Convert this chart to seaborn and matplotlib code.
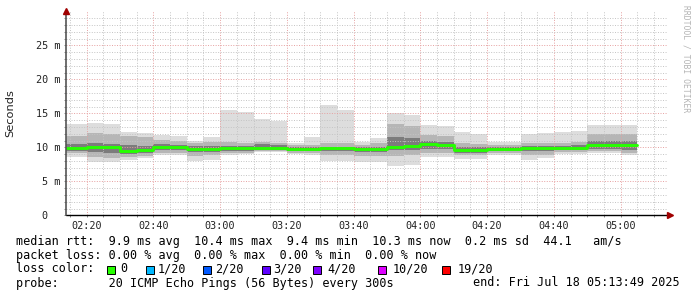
import numpy as np
import pandas as pd
import matplotlib
matplotlib.use("Agg")
import matplotlib.pyplot as plt
import matplotlib.dates as mdates
import matplotlib.ticker as mticker
from matplotlib.patches import Rectangle
import seaborn as sns

# ---------------- data (milliseconds) ----------------
bin_start = pd.date_range("2025-07-18 02:10", periods=35, freq="5min")
rtt_max = [13.4, 13.4, 13.6, 13.4, 12.25, 12.15, 11.85, 11.65, 10.97, 11.47,
           15.5, 15.2, 14.1, 13.8, 10.7, 11.55, 16.2, 15.5, 10.8, 11.4,
           15.1, 14.75, 13.3, 13.15, 12.25, 11.9, 10.8, 10.8, 11.95, 12.1,
           12.25, 12.4, 13.3, 13.3, 13.3]
rtt_hi2 = [11.7, 11.7, 12.1, 12.0, 11.6, 11.5, 11.1, 11.0, 10.6, 10.8,
           10.8, 10.7, 10.8, 10.7, 10.3, 10.4, 10.6, 10.6, 10.4, 10.6,
           13.5, 13.2, 11.8, 11.6, 10.6, 10.5, 10.4, 10.4, 10.6, 10.6,
           10.6, 10.8, 12.0, 12.0, 11.9]
rtt_hi3 = [10.5, 10.5, 10.6, 10.5, 10.3, 10.2, 10.5, 10.4, 10.2, 10.2,
           10.2, 10.2, 10.5, 10.4, 10.0, 10.1, 10.1, 10.1, 10.0, 10.1,
           11.5, 11.3, 10.9, 10.8, 10.0, 10.0, 10.1, 10.1, 10.2, 10.2,
           10.2, 10.3, 11.0, 11.0, 10.9]
rtt_median = [9.95, 9.95, 10.1, 10.0, 9.5, 9.6, 10.1, 10.0, 9.7, 9.7,
              9.9, 9.85, 9.85, 9.85, 9.7, 9.75, 9.85, 9.85, 9.75, 9.8,
              10.1, 10.25, 10.5, 10.35, 9.6, 9.6, 9.7, 9.75, 9.9, 9.9,
              9.95, 9.95, 10.3, 10.3, 10.3]
rtt_lo3 = [9.5, 9.5, 9.3, 9.2, 9.0, 9.1, 9.6, 9.6, 9.3, 9.3,
           9.5, 9.5, 9.6, 9.6, 9.4, 9.4, 9.4, 9.4, 9.3, 9.3,
           9.6, 9.6, 9.8, 9.8, 9.2, 9.2, 9.4, 9.4, 9.4, 9.4,
           9.6, 9.6, 9.7, 9.7, 9.6]
rtt_lo2 = [9.1, 9.1, 8.6, 8.5, 8.6, 8.7, 9.2, 9.2, 8.7, 8.8,
           9.1, 9.2, 9.45, 9.45, 9.2, 9.1, 8.9, 8.9, 8.7, 8.7,
           8.7, 8.8, 9.2, 9.2, 8.8, 8.8, 9.1, 9.1, 8.8, 8.9,
           9.3, 9.3, 9.4, 9.4, 9.2]
rtt_min = [8.6, 8.6, 7.8, 7.8, 8.1, 8.4, 8.85, 8.85, 7.98, 8.1,
           8.8, 8.95, 9.35, 9.35, 9.0, 8.8, 7.98, 7.98, 7.8, 7.8,
           7.3, 7.45, 8.6, 8.6, 8.25, 8.35, 8.9, 8.9, 8.1, 8.5,
           8.95, 8.95, 9.1, 9.1, 8.85]

y_ticks = [0, 5, 10, 15, 20, 25]
y_tick_labels = ["0  ", "5 m", "10 m", "15 m", "20 m", "25 m"]

legend_lines = [
    "median rtt:  9.9 ms avg  10.4 ms max  9.4 ms min  10.3 ms now  0.2 ms sd  44.1   am/s",
    "packet loss: 0.00 % avg  0.00 % max  0.00 % min  0.00 % now",
    "loss color:",
    "probe:       20 ICMP Echo Pings (56 Bytes) every 300s",
]
loss_labels = ["0", "1/20", "2/20", "3/20", "4/20", "10/20", "19/20"]
loss_colors = ["#26ff00", "#00b8ff", "#0059ff", "#5e00ff", "#7e00ff", "#dd00ff", "#ff0000"]
end_text = "end: Fri Jul 18 05:13:49 2025"

# ---------------- figure ----------------
sns.set_theme(style="white")
plt.rcParams["font.family"] = ["DejaVu Sans Mono", "DejaVu Sans"]

W, H = 697, 297
fig = plt.figure(figsize=(W / 100, H / 100), dpi=100)
fig.patch.set_facecolor("white")
ax_l, ax_b, ax_w, ax_h = 66, 215.3, 600.75, 204.0
ax = fig.add_axes([ax_l / W, 1 - ax_b / H, ax_w / W, ax_h / H])
ax.set_facecolor("white")

step = pd.Timedelta("5min")
edges = list(bin_start) + [bin_start[-1] + step]
def ext(a):
    return list(a) + [a[-1]]

layers = [
    (rtt_min, rtt_max, "#dddddd"),
    (rtt_lo2, rtt_hi2, "#b6b6b6"),
    (rtt_lo3, rtt_hi3, "#7c7c7c"),
]
for lo, hi, col in layers:
    ax.fill_between(edges, ext(lo), ext(hi), step="post", color=col, lw=0, zorder=1)

df_med = pd.DataFrame({"time": edges, "median": ext(rtt_median)})
sns.lineplot(data=df_med, x="time", y="median", drawstyle="steps-post",
             color="#26ff00", lw=2.1, estimator=None, ax=ax, zorder=3)

t0 = pd.Timestamp("2025-07-18 02:13:49")
t1 = pd.Timestamp("2025-07-18 05:13:49")
ax.set_xlim(t0, t1)
ax.set_ylim(0, 30)

ax.xaxis.set_major_locator(mdates.MinuteLocator(byminute=[0, 20, 40]))
ax.xaxis.set_minor_locator(mdates.MinuteLocator(byminute=list(range(0, 60, 5))))
ax.xaxis.set_major_formatter(mdates.DateFormatter("%H:%M"))
ax.yaxis.set_major_locator(mticker.FixedLocator(y_ticks))
ax.yaxis.set_major_formatter(mticker.FixedFormatter(y_tick_labels))
ax.yaxis.set_minor_locator(mticker.FixedLocator(list(range(0, 30))))

ax.set_axisbelow(False)
ax.grid(which="minor", color="#c4c4c4", lw=0.7, ls=(0, (1, 1.6)), zorder=4)
ax.grid(which="major", color="#e6a0a0", lw=0.7, ls=(0, (1, 1.6)), zorder=4)

for s in ax.spines.values():
    s.set_visible(False)
ax.plot([0, 1.006], [0, 0], transform=ax.transAxes, color="black", lw=1.0,
        clip_on=False, zorder=6)
ax.plot([0, 0], [0, 1.0], transform=ax.transAxes, color="#555555", lw=1.2,
        clip_on=False, zorder=6)
ax.plot([1.006], [0], transform=ax.transAxes, marker=">", ms=4.0,
        color="#a00000", clip_on=False, zorder=7)
ax.plot([0], [1.0], transform=ax.transAxes, marker="^", ms=4.0,
        color="#a00000", clip_on=False, zorder=7)

ax.tick_params(axis="both", which="both", direction="out", length=1.6,
               width=0.7, color="#888888", labelsize=7.3, labelcolor="#222222",
               bottom=True, left=True)
ax.tick_params(axis="x", which="major", pad=2.2)
ax.tick_params(axis="y", which="major", pad=2.6)
for lab in ax.get_xticklabels() + ax.get_yticklabels():
    lab.set_fontfamily("DejaVu Sans Mono")

ax.set_xlabel("")
ax.set_ylabel("Seconds", fontfamily="DejaVu Sans", fontsize=8.2, color="#222222")
ax.yaxis.set_label_coords(-(66 - 15.5) / ax_w, 0.5)

# watermark
fig.text(686 / W, 1 - 5 / H, "RRDTOOL / TOBI OETIKER", rotation=270,
         ha="center", va="top", fontsize=5.8, color="#b4b4b4",
         fontfamily="DejaVu Sans Mono")

# legend text
base_y = [244.5, 258.5, 272.5, 286.5]
for txt, by in zip(legend_lines, base_y):
    fig.text(16 / W, 1 - by / H, txt, ha="left", va="baseline",
             fontsize=8.5, color="black", fontfamily="DejaVu Sans Mono")
fig.text(680 / W, 1 - base_y[3] / H, end_text, ha="right", va="baseline",
         fontsize=8.5, color="black", fontfamily="DejaVu Sans Mono")

sq_x = [107.3, 145.7, 203.3, 261.7, 313.3, 378.3, 442.3]
lab_x = [120.5, 157.5, 215.5, 273.5, 327.5, 393.0, 457.5]
for sx, lx, lab, col in zip(sq_x, lab_x, loss_labels, loss_colors):
    fig.add_artist(Rectangle((sx / W, 1 - 274.0 / H), 8.0 / W, 8.0 / H,
                             transform=fig.transFigure, facecolor=col,
                             edgecolor="black", lw=0.7))
    fig.text(lx / W, 1 - base_y[2] / H, lab, ha="left", va="baseline",
             fontsize=8.5, color="black", fontfamily="DejaVu Sans Mono")

fig.savefig("out.png", dpi=100, facecolor="white")
